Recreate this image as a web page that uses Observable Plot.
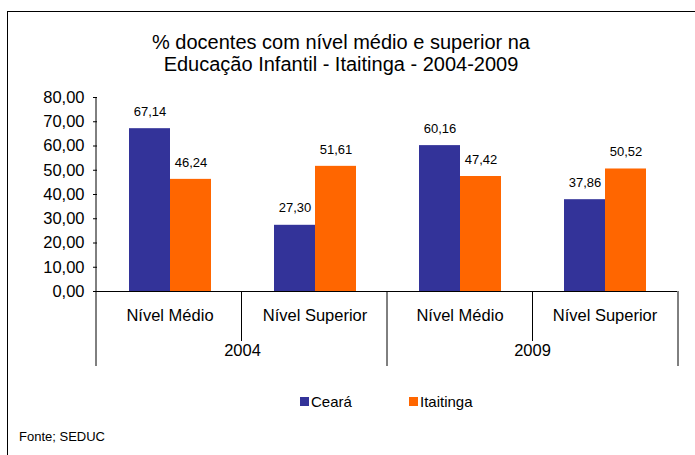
<!DOCTYPE html>
<html><head><meta charset="utf-8">
<script src="https://cdn.jsdelivr.net/npm/d3@7"></script>
<script src="https://cdn.jsdelivr.net/npm/@observablehq/plot@0.6"></script>
<style>
body{margin:0;background:#fff;font-family:"Liberation Sans",Arial,sans-serif;color:#000;}
#wrap{position:relative;width:695px;height:455px;overflow:hidden;background:#fff;}
#chart{position:absolute;left:0;top:0;}
#border{position:absolute;left:7px;top:11px;width:800px;height:600px;border-left:1.5px solid #000;border-top:1.5px solid #000;}
#title{position:absolute;left:0;width:682px;top:31px;text-align:center;font-size:20px;line-height:22px;}
.sw{position:absolute;width:9px;height:9px;}
.lt{position:absolute;font-size:15px;line-height:15px;}
#caption{position:absolute;left:19px;top:430px;font-size:13px;line-height:13px;}
</style>
</head><body>
<div id="wrap">
  <div id="chart"></div>
  <div id="border"></div>
  <div id="title">% docentes com nível médio e superior na<br>Educação Infantil - Itaitinga - 2004-2009</div>
  <div id="legend"></div>
  <div id="caption">Fonte; SEDUC</div>
</div>
<script>
const years = ["2004", "2009"];
const levels = ["Nível Médio", "Nível Superior"];
const series = ["Ceará", "Itaitinga"];
const cearaValues = [67.14, 27.30, 60.16, 37.86];
const itaitingaValues = [46.24, 51.61, 47.42, 50.52];
const yTicks = [0, 10, 20, 30, 40, 50, 60, 70, 80];
const colors = ["#333399", "#FF6600"];

const fmt = v => v.toFixed(2).replace(".", ",");
const groups = years.flatMap(year => levels.map(level => ({key: year + " " + level, year, level})));
const seriesValues = [cearaValues, itaitingaValues];
const data = groups.flatMap((g, i) => series.map((s, j) => ({group: g.key, series: s, value: seriesValues[j][i]})));
const yearFirst = years.map(y => groups.find(g => g.year === y));

const plot = Plot.plot({
  width: 695, height: 455,
  marginTop: 97, marginBottom: 164, marginLeft: 96, marginRight: 17,
  style: {fontFamily: "'Liberation Sans', Arial, sans-serif", fontSize: "16.5px", color: "#000", background: "transparent"},
  fx: {domain: groups.map(g => g.key), padding: 0, axis: null},
  x: {domain: series, paddingInner: 0, paddingOuter: 0.73, axis: null},
  y: {domain: [0, 80], ticks: yTicks, tickFormat: fmt, tickSize: 4, tickPadding: 9, label: null},
  color: {domain: series, range: colors},
  marks: [
    Plot.barY(data, {fx: "group", x: "series", y: "value", fill: "series"}),
    Plot.ruleY([0], {stroke: "#000"}),
    Plot.text(data, {fx: "group", x: "series", y: "value", text: d => fmt(d.value), dy: -17, fontSize: 13}),
    Plot.text(groups, {fx: "key", text: "level", frameAnchor: "bottom", dy: 29}),
    Plot.text(yearFirst, {fx: "key", text: "year", frameAnchor: "bottom-right", textAnchor: "middle", dy: 64})
  ]
});
document.getElementById("chart").appendChild(plot);

// hierarchical axis separators from the plot's own scales
const fxs = plot.scale("fx"), ys = plot.scale("y");
const band = d3.scaleBand(fxs.domain, fxs.range).padding(0);
const [x0, x1] = band.range();
const yTop = ys.apply(80), yBase = ys.apply(0);
const g = d3.select(plot).append("g").attr("stroke", "#000").attr("stroke-width", 1);
g.append("line").attr("x1", x0).attr("x2", x0).attr("y1", yTop).attr("y2", yBase + 75);
groups.forEach((grp, i) => {
  if (i === 0) return;
  const x = band(grp.key);
  const yearBoundary = groups[i - 1].year !== grp.year;
  g.append("line").attr("x1", x).attr("x2", x).attr("y1", yBase).attr("y2", yBase + (yearBoundary ? 75 : 50));
});
g.append("line").attr("x1", x1).attr("x2", x1).attr("y1", yBase).attr("y2", yBase + 75);

// legend
const leg = document.getElementById("legend");
const legX = [300, 409];
series.forEach((s, i) => {
  const sw = document.createElement("div");
  sw.className = "sw"; sw.style.left = legX[i] + "px"; sw.style.top = "397px"; sw.style.background = colors[i];
  const t = document.createElement("div");
  t.className = "lt"; t.style.left = (legX[i] + 11) + "px"; t.style.top = "394px"; t.textContent = s;
  leg.appendChild(sw); leg.appendChild(t);
});
</script>
</body></html>
